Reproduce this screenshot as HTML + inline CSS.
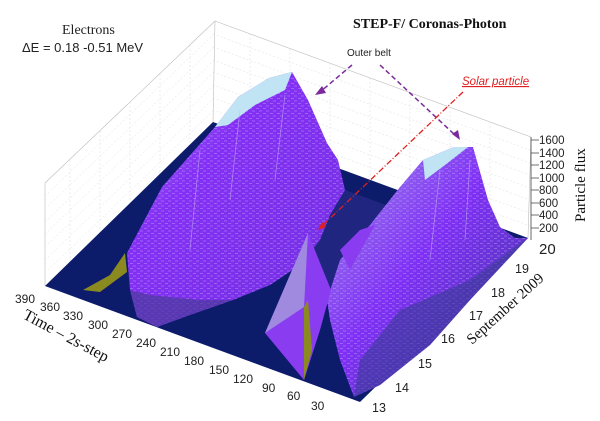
<!DOCTYPE html>
<html><head><meta charset="utf-8"><style>
body{margin:0;background:#fff;}
svg{display:block;}
text{font-family:"Liberation Sans",sans-serif;}
.s{font-family:"Liberation Serif",serif;}
</style></head><body>
<svg width="600" height="421" viewBox="0 0 600 421" xmlns="http://www.w3.org/2000/svg">
<defs>
<linearGradient id="m1" x1="0" y1="0" x2="1" y2="1">
<stop offset="0" stop-color="#a890f0"/><stop offset="0.35" stop-color="#8530f5"/><stop offset="0.75" stop-color="#7a30e8"/><stop offset="1" stop-color="#4a3aa0"/>
</linearGradient>
<linearGradient id="m2" x1="0" y1="0" x2="1" y2="1">
<stop offset="0" stop-color="#a090e8"/><stop offset="0.45" stop-color="#8030f5"/><stop offset="1" stop-color="#3a3a98"/>
</linearGradient>
<pattern id="tex" width="7" height="5" patternUnits="userSpaceOnUse">
<path d="M0 1h3M4 3.5h3" stroke="#d0c4ff" stroke-width="0.7" opacity="0.45"/>
</pattern>
</defs>
<g stroke="#bbb" stroke-width="0.6" fill="none">
<path d="M215 21 L531 137 M45 183 L215 21 M45 183 L45 286 M215 21 L213 122 M531 137 L528 238"/>
</g>
<g stroke="#ddd" stroke-width="0.5" stroke-dasharray="2,2" fill="none">
<path d="M213 34 L530 150 M213 47 L530 163 M213 60 L530 175 M213 72 L530 188 M213 85 L530 200 M213 98 L530 213 M213 110 L530 226"/>
<path d="M45 196 L214 34 M45 209 L214 47 M45 222 L214 60 M45 234 L214 72 M45 247 L214 85 M45 260 L214 98 M45 273 L214 110"/>
<path d="M250 34 L250 135 M290 49 L290 150 M330 63 L330 164 M370 78 L370 179 M410 92 L410 193 M450 107 L450 208 M490 122 L490 223"/>
<path d="M70 160 L70 262 M100 131 L100 233 M130 102 L130 204 M160 74 L160 176 M190 45 L190 146"/>
</g>
<polygon points="45,286 213,122 528,238 360,402" fill="#0d1b6b"/>
<!-- mid valley shading -->
<polygon points="300,265 345,190 400,210 370,240 330,300" fill="#2a2a88" opacity="0.7"/>
<!-- left mountain -->
<g>
<polygon points="127,253 162,187 215,127 238,97 269,78 292,72 308,100 327,143 338,160 345,190 330,215 320,240 300,265 270,285 233,300 190,315 157,327 137,317 130,290" fill="url(#m1)"/>
<polygon points="127,253 162,187 215,127 238,97 269,78 292,72 308,100 327,143 338,160 345,190 330,215 320,240 300,265 270,285 233,300 190,315 157,327 137,317 130,290" fill="url(#tex)"/>
<polygon points="215,127 238,97 269,78 292,72 285,90 255,105 228,125" fill="#c0e4f4"/>
<polygon points="130,290 137,317 157,327 190,315 233,300 200,300 150,295" fill="#4a3a9a" opacity="0.7"/>
<path d="M240 110 L230 200 M285 95 L275 180 M200 150 L190 250" stroke="#c8b8f0" stroke-width="0.8" opacity="0.6"/>
</g>
<polygon points="83,290 110,275 125,253 127,272 100,292" fill="#8a8a20"/>
<!-- right mountain -->
<polygon points="327,300 340,260 370,225 400,187 423,160 454,147 473,147 488,200 500,227 515,238 528,238 470,300 430,345 380,385 354,397 340,360 330,320" fill="url(#m2)"/>
<polygon points="327,300 340,260 370,225 400,187 423,160 454,147 473,147 488,200 500,227 515,238 528,238 470,300 430,345 380,385 354,397 340,360 330,320" fill="url(#tex)"/>
<polygon points="423,160 454,147 468,147 445,165 425,180" fill="#c0e4f4"/>
<polygon points="400,310 470,280 528,238 470,300 430,345 380,385 354,397 360,360" fill="#3a3a98" opacity="0.6"/>
<path d="M440 170 L430 260 M470 160 L465 240" stroke="#c8b8f0" stroke-width="0.8" opacity="0.6"/>
<polygon points="340,250 360,230 375,225 350,270" fill="#8a3cf0"/>
<!-- small peak -->
<polygon points="265,333 308,233 331,290 320,330 304,380" fill="#8a3cf0"/>
<polygon points="265,333 308,233 304,307" fill="#a08ae0"/>
<polygon points="304,307 308,300 312,350 304,380" fill="#8a8a20"/>
<g stroke="#444" stroke-width="0.8">
<path d="M531 137 L531 240"/>
<path d="M531 140h8M531 153h8M531 165h8M531 178h8M531 190h8M531 203h8M531 215h8M531 228h8"/>
</g>
<g font-size="11.5" fill="#222">
<text x="539" y="144">1600</text><text x="539" y="157">1400</text><text x="539" y="169">1200</text><text x="539" y="182">1000</text>
<text x="539" y="194">800</text><text x="539" y="207">600</text><text x="539" y="219">400</text><text x="539" y="232">200</text>
<text x="539" y="254" font-size="15">20</text>
</g>
<text class="s" x="0" y="0" font-size="15" fill="#111" transform="translate(585,222) rotate(-90)">Particle flux</text>
<g font-size="12.5" fill="#222">
<text x="515" y="273">19</text><text x="491" y="297">18</text><text x="469" y="320">17</text><text x="441" y="343">16</text><text x="418" y="368">15</text><text x="395" y="392">14</text><text x="372" y="412">13</text>
</g>
<text class="s" font-size="15" fill="#111" transform="translate(472,345) rotate(-42)">September 2009</text>
<g font-size="12" fill="#222">
<text x="15" y="303">390</text><text x="40" y="311">360</text><text x="63" y="320">330</text><text x="88" y="329">300</text><text x="112" y="338">270</text>
<text x="136" y="347">240</text><text x="160" y="356">210</text><text x="184" y="365">180</text><text x="209" y="374">150</text><text x="233" y="383">120</text>
<text x="262" y="392">90</text><text x="287" y="400">60</text><text x="311" y="410">30</text>
</g>
<text class="s" font-size="16" fill="#111" transform="translate(22,318) rotate(28)">Time  – 2s-step</text>
<text class="s" x="62" y="34" font-size="14" fill="#222">Electrons</text>
<text x="22" y="52" font-size="13" fill="#222">ΔE = 0.18 -0.51 MeV</text>
<text class="s" x="353" y="28" font-size="14" font-weight="bold" fill="#111">STEP-F/ Coronas-Photon</text>
<text x="347" y="56" font-size="10" fill="#222">Outer belt</text>
<text x="462" y="85" font-size="11.5" font-style="italic" fill="#e02020" text-decoration="underline">Solar particle</text>
<g stroke="#7a2a9a" stroke-width="1.5" stroke-dasharray="5,3" fill="none">
<path d="M352 65 L320 92"/><path d="M380 65 L455 135"/>
</g>
<polygon points="315,95 322,86 326,93" fill="#7a2a9a"/>
<polygon points="460,140 452,134 458,130" fill="#7a2a9a"/>
<path d="M463 92 L322 226" stroke="#e02020" stroke-width="1.3" stroke-dasharray="6,2,1,2" fill="none"/>
<polygon points="318,230 322,222 326,227" fill="#e02020"/>
</svg>
</body></html>
